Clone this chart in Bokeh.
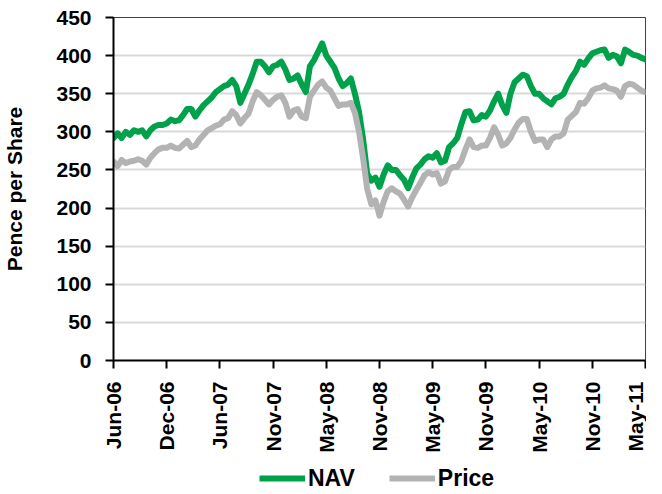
from bokeh.plotting import figure
from bokeh.layouts import column
from bokeh.models import FixedTicker, Legend, LegendItem, ColumnDataSource, Range1d
from bokeh.embed import file_html
from bokeh.resources import INLINE

tick_labels = ["Jun-06", "Dec-06", "Jun-07", "Nov-07", "May-08", "Nov-08",
               "May-09", "Nov-09", "May-10", "Nov-10", "May-11"]
tick_weeks = [0, 26, 52, 78, 104, 130, 156, 182, 208, 234, 260]

nav = [292, 298, 292, 300, 296, 302, 300, 302, 294, 302,
       307, 309, 309, 311, 316, 314, 315, 322, 330, 330,
       320, 328, 335, 340, 345, 352, 356, 360, 362, 368,
       360, 338, 350, 362, 376, 392, 392, 386, 378, 386,
       388, 392, 382, 368, 370, 374, 362, 352, 386, 394,
       405, 416, 400, 392, 384, 370, 360, 364, 370, 350,
       326, 290, 245, 236, 240, 228, 244, 256, 250, 250,
       243, 237, 226, 240, 252, 257, 264, 268, 266, 272,
       260, 262, 280, 285, 292, 310, 326, 327, 315, 316,
       322, 320, 328, 340, 350, 335, 325, 350, 365, 370,
       375, 373, 360, 350, 350, 344, 340, 336, 344, 346,
       350, 362, 372, 380, 392, 388, 396, 403, 405, 407,
       408, 397, 401, 399, 390, 408, 405, 401, 400, 397,
       395]

price = [261, 255, 263, 259, 261, 262, 264, 262, 257, 266,
         272, 277, 279, 279, 282, 279, 278, 283, 288, 280,
         282, 290, 296, 302, 305, 308, 310, 316, 318, 327,
         322, 311, 318, 324, 340, 352, 348, 342, 336, 342,
         346, 348, 338, 320, 328, 330, 320, 318, 346, 354,
         362, 366, 358, 354, 344, 334, 336, 336, 338, 325,
         300, 265, 225, 205, 210, 190, 208, 222, 226, 222,
         219, 211, 202, 214, 224, 233, 243, 247, 244, 246,
         232, 235, 250, 254, 254, 262, 277, 290, 280, 279,
         282, 282, 292, 306, 296, 282, 285, 292, 303, 312,
         317, 317, 300, 288, 290, 290, 280, 290, 294, 294,
         298, 316, 321, 326, 338, 337, 344, 354, 357, 358,
         361, 357, 356, 354, 346, 360, 363, 362, 358, 354,
         352]

weeks = list(range(0, 2 * len(nav), 2))

FONT = "Liberation Sans"
GREEN = "#00A14B"
GREY = "#B3B3B3"

src = ColumnDataSource(dict(week=weeks, nav=nav, price=price))

p = figure(width=646, height=455, output_backend="svg", toolbar_location=None,
           x_range=(0, 260), y_range=(0, 450),
           min_border_left=105, min_border_top=17, min_border_right=1,
           min_border_bottom=91)
p.background_fill_color = "white"
p.border_fill_color = "white"
p.outline_line_color = "#404040"
p.outline_line_width = 1

p.line("week", "nav", source=src, line_color=GREEN, line_width=6,
       line_join="round", line_cap="round")
p.line("week", "price", source=src, line_color=GREY, line_width=6,
       line_join="round", line_cap="round")

p.xgrid.visible = False
p.ygrid.grid_line_color = "#D9D9D9"
p.ygrid.grid_line_width = 2

p.yaxis.ticker = FixedTicker(ticks=list(range(0, 451, 50)))
p.xaxis.ticker = FixedTicker(ticks=tick_weeks)
p.xaxis.major_label_overrides = {w: l for w, l in zip(tick_weeks, tick_labels)}
p.xaxis.major_label_orientation = 3.14159265 / 2

for ax in (p.xaxis[0], p.yaxis[0]):
    ax.axis_line_color = "black"
    ax.axis_line_width = 2
    ax.major_tick_line_color = "black"
    ax.major_tick_line_width = 2
    ax.major_tick_in = 0
    ax.major_tick_out = 8
    ax.minor_tick_line_color = None
    ax.major_label_text_font = FONT
    ax.major_label_text_font_style = "bold"
    ax.major_label_text_font_size = "21px"
    ax.major_label_text_color = "black"
    ax.major_label_standoff = 14
p.xaxis.major_label_standoff = 13

p.yaxis.axis_label = "Pence per Share"
p.yaxis.axis_label_text_font = FONT
p.yaxis.axis_label_text_font_style = "bold"
p.yaxis.axis_label_text_font_size = "21px"
p.yaxis.axis_label_text_color = "black"
p.yaxis.axis_label_standoff = 27

# legend strip: same series, drawn off-view so only the legend shows
leg = figure(width=646, height=37, output_backend="svg", toolbar_location=None,
             x_range=Range1d(0, 260), y_range=Range1d(1000, 1001),
             min_border=0, outline_line_color=None)
leg.axis.visible = False
leg.grid.visible = False
l1 = leg.line("week", "nav", source=src, line_color=GREEN, line_width=6)
l2 = leg.line("week", "price", source=src, line_color=GREY, line_width=6)
legend = Legend(items=[LegendItem(label="NAV", renderers=[l1]),
                       LegendItem(label="Price", renderers=[l2])],
                orientation="horizontal", location=(146, 0),
                border_line_color=None, background_fill_alpha=0,
                padding=0, margin=0, spacing=34, label_standoff=3,
                glyph_width=46, glyph_height=28,
                label_text_font=FONT, label_text_font_style="bold",
                label_text_font_size="23px", label_text_color="black")
leg.add_layout(legend, "center")

open("out.html", "w").write(file_html(column(p, leg), INLINE))
